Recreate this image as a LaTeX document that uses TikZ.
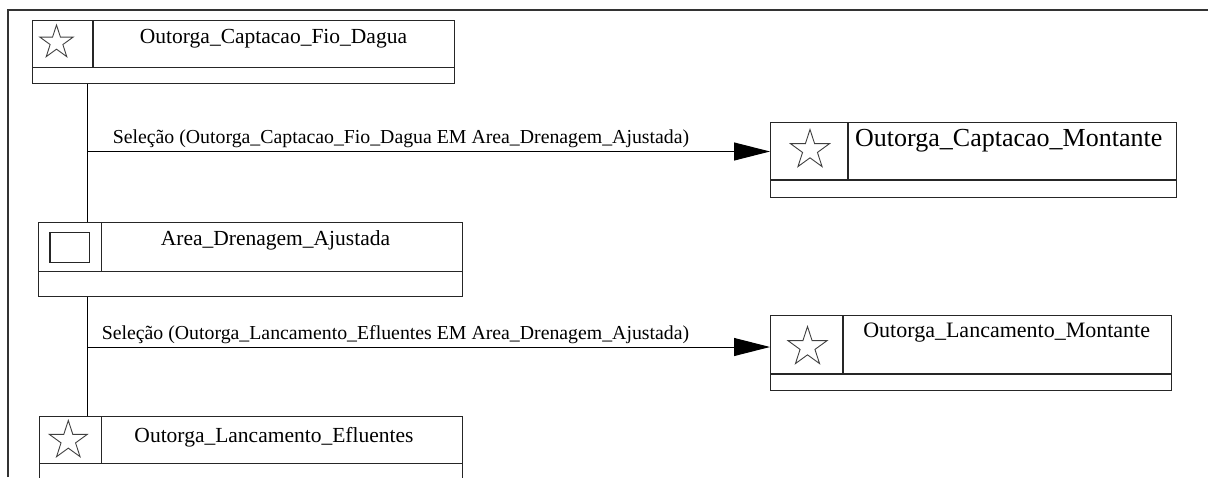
\documentclass[tikz,border=0pt]{standalone}
\usepackage{fontspec}
\setmainfont{Liberation Serif}
\usetikzlibrary{shapes.geometric,arrows.meta}

\tikzset{
  classbox/.style={draw=black!85, line width=1.1pt, rectangle, inner sep=0pt, anchor=north west},
  cellline/.style={draw=black!85, line width=1.1pt},
  glyph/.style={star, star points=5, star point ratio=2.618, draw=black!75, line width=0.9pt, inner sep=0pt, shape border rotate=0},
  boxtitle/.style={inner sep=0pt, anchor=base, font=\fontsize{21.5}{24}\selectfont},
  linklabel/.style={inner sep=0pt, anchor=base, font=\fontsize{19.8}{22}\selectfont},
  link/.style={draw=black, line width=1pt, -{Triangle[length=36pt,width=18pt]}},
  spine/.style={draw=black, line width=1pt},
}

\begin{document}
\begin{tikzpicture}[x=1pt,y=-1pt]
\useasboundingbox (0,0) rectangle (1208,477);
\clip (0,0) rectangle (1208,477);

% outer frame (left and top edges)
\draw[line width=1.1pt, black!80] (8,477) -- (8,10) -- (1208,10);

% class boxes
\node[classbox, minimum width=422pt, minimum height=63pt] (b1) at (32,20) {};
\node[classbox, minimum width=423.5pt, minimum height=74pt] (b2) at (38,222) {};
\node[classbox, minimum width=422.4pt, minimum height=110pt] (b3) at (39.3,416) {};
\node[classbox, minimum width=406pt, minimum height=75pt] (b4) at (770,122) {};
\node[classbox, minimum width=401pt, minimum height=75pt] (b5) at (770,315) {};

% inner compartments
\coordinate (d1) at (93,67.5);
\draw[cellline] (b1.west |- d1) -- (b1.east |- d1);
\draw[cellline] (b1.north -| d1) -- (d1);
\coordinate (d2) at (101.7,271.7);
\draw[cellline] (b2.west |- d2) -- (b2.east |- d2);
\draw[cellline] (b2.north -| d2) -- (d2);
\coordinate (d3) at (101.3,463.3);
\draw[cellline] (b3.west |- d3) -- (b3.east |- d3);
\draw[cellline] (b3.north -| d3) -- (d3);
\coordinate (d4) at (848,180);
\draw[cellline] (b4.west |- d4) -- (b4.east |- d4);
\draw[cellline] (b4.north -| d4) -- (d4);
\coordinate (d5) at (843,374);
\draw[cellline] (b5.west |- d5) -- (b5.east |- d5);
\draw[cellline] (b5.north -| d5) -- (d5);

% icons
\node[glyph, minimum size=35pt] (g1) at (56.5,42.5) {};
\node[draw=black!85, line width=1.1pt, inner sep=0pt, minimum width=39.5pt, minimum height=29.5pt] (g2) at (69.7,247.5) {};
\node[glyph, minimum size=40pt] (g3) at (68.3,440.5) {};
\node[glyph, minimum size=41pt] (g4) at (810,150) {};
\node[glyph, minimum size=41pt] (g5) at (807.5,347) {};

% titles
\node[boxtitle] (t1) at (273.5,43.3) {Outorga\_Captacao\_Fio\_Dagua};
\node[boxtitle] (t2) at (275.5,245) {Area\_Drenagem\_Ajustada};
\node[boxtitle] (t3) at (274,442.7) {Outorga\_Lancamento\_Efluentes};
\node[boxtitle, anchor=base west, font=\fontsize{26}{28}\selectfont] (t4) at (855,146.7) {Outorga\_Captacao\_Montante};
\node[boxtitle, font=\fontsize{22}{24}\selectfont] (t5) at (1006.7,337.3) {Outorga\_Lancamento\_Montante};

% vertical spine joining the stacked boxes
\coordinate (sp) at (87,0);
\draw[spine] (b1.south -| sp) -- (b2.north -| sp);
\draw[spine] (b2.south -| sp) -- (b3.north -| sp);

% selection links
\coordinate (s1) at (87,151.5);
\coordinate (s2) at (87,347);
\draw[link] (s1) -- (s1 -| b4.west);
\draw[link] (s2) -- (s2 -| b5.west);

\node[linklabel] (l1) at (401,143) {Seleção (Outorga\_Captacao\_Fio\_Dagua EM Area\_Drenagem\_Ajustada)};
\node[linklabel] (l2) at (395.5,339) {Seleção (Outorga\_Lancamento\_Efluentes EM Area\_Drenagem\_Ajustada)};
\end{tikzpicture}
\end{document}
